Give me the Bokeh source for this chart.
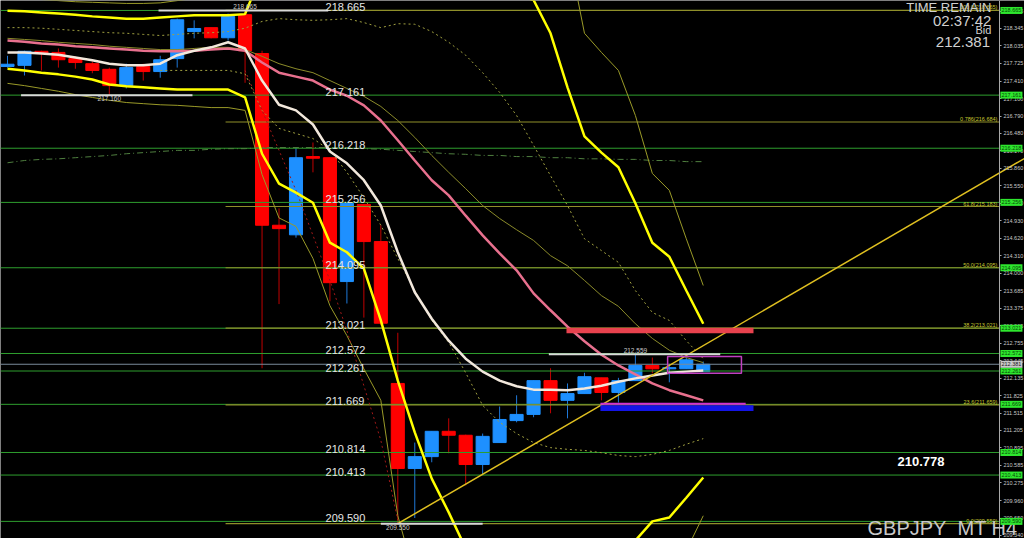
from bokeh.plotting import figure
from bokeh.models import Range1d, FixedTicker, Label, ColumnDataSource, PrintfTickFormatter, LinearAxis
from bokeh.core.properties import value
from bokeh.embed import file_html
from bokeh.resources import INLINE

# ---------------- data (GBPJPY H4) ----------------
idx = list(range(42))
open_ = [217.67, 217.69, 217.94, 217.92, 217.81, 217.72, 217.62, 217.33, 217.67, 217.58,
         217.81, 218.29, 218.36, 218.18, 218.59, 217.90, 214.85, 214.68, 216.07, 216.05,
         213.85, 215.22, 214.56, 212.04, 210.53, 210.74, 211.19, 211.12, 210.60, 210.99,
         211.38, 211.49, 212.09, 211.74, 211.86, 212.14, 211.88, 212.09, 212.36, 212.30,
         212.30, 212.25]
high = [217.86, 217.95, 217.95, 217.99, 217.85, 217.76, 217.65, 217.72, 217.72, 217.86,
        218.52, 218.49, 218.36, 218.61, 218.665, 217.95, 215.15, 216.23, 216.32, 216.05,
        215.24, 215.22, 214.85, 212.94, 210.99, 211.19, 211.42, 211.13, 211.15, 211.63,
        211.83, 212.09, 212.31, 212.04, 212.23, 212.14, 212.14, 212.559, 212.50, 212.39,
        212.50, 212.43]
low = [217.65, 217.51, 217.60, 217.65, 217.63, 217.55, 217.160, 217.28, 217.42, 217.47,
       217.65, 218.17, 218.17, 218.13, 217.38, 212.31, 213.45, 214.63, 215.79, 213.50,
       213.46, 213.21, 213.07, 209.550, 209.65, 210.64, 210.80, 210.23, 210.41, 210.99,
       211.35, 211.44, 211.51, 211.42, 211.86, 211.74, 211.70, 212.09, 212.22, 212.06,
       212.30, 212.25]
close = [217.71, 217.94, 217.90, 217.79, 217.74, 217.60, 217.33, 217.65, 217.58, 217.79,
         218.50, 218.345, 218.18, 218.56, 217.95, 214.85, 214.79, 216.05, 216.04, 213.83,
         215.24, 214.56, 213.11, 210.53, 210.74, 211.19, 211.12, 210.60, 211.10, 211.40,
         211.49, 212.09, 211.74, 211.86, 212.16, 211.88, 212.09, 212.36, 212.30, 212.32,
         212.46, 212.381]

ema_white = [217.92, 217.92, 217.90, 217.88, 217.83, 217.78, 217.72, 217.69, 217.69, 217.72,
             217.87, 217.95, 218.01, 218.10, 217.99, 217.42, 216.99, 216.89, 216.64, 216.16,
             215.95, 215.65, 215.20, 214.37, 213.66, 213.19, 212.80, 212.48, 212.25, 212.09,
             211.99, 211.93, 211.93, 211.92, 211.95, 212.00, 212.07, 212.13, 212.18, 212.23,
             212.25, 212.27]
ma_pink = [218.13, 218.11, 218.08, 218.06, 218.03, 218.01, 217.99, 217.97, 217.95, 217.94,
           217.94, 217.95, 217.97, 217.99, 217.95, 217.74, 217.56, 217.49, 217.42, 217.26,
           217.15, 216.98, 216.71, 216.36, 216.00, 215.65, 215.38, 215.02, 214.67, 214.35,
           214.05, 213.64, 213.34, 213.05, 212.79, 212.55, 212.36, 212.20, 212.04, 211.92,
           211.83, 211.74]
mid_olive = [218.17, 218.15, 218.13, 218.10, 218.08, 218.06, 218.03, 218.01, 217.99, 217.97,
             217.97, 217.99, 218.01, 218.01, 217.97, 217.85, 217.72, 217.63, 217.56, 217.42,
             217.28, 217.14, 216.96, 216.71, 216.41, 216.09, 215.79, 215.50, 215.20, 214.97,
             214.77, 214.58, 214.31, 214.13, 213.87, 213.60, 213.41, 213.10, 212.84, 212.63,
             212.50, 212.41]
upper_yellow = [218.66, 218.65, 218.63, 218.61, 218.59, 218.56, 218.54, 218.52, 218.52, 218.54,
                218.56, 218.58, 218.58, 218.58, 218.60, 219.35, 219.70, 219.80, 219.85, 219.95,
                220.00, 219.95, 219.90, 219.85, 219.80, 219.65, 219.50, 219.35, 219.20, 219.10,
                218.95, 218.85, 218.26, 217.30, 216.43, 216.14, 215.88, 215.24, 214.54, 214.29,
                213.69, 213.10]
lower_yellow = [217.63, 217.60, 217.56, 217.53, 217.49, 217.44, 217.35, 217.32, 217.30, 217.28,
                217.26, 217.26, 217.26, 217.26, 217.12, 216.12, 215.59, 215.43, 215.25, 214.54,
                214.37, 214.08, 213.16, 212.09, 211.17, 210.35, 209.75, 209.11, 208.80, 208.55,
                208.35, 208.25, 208.30, 208.45, 208.65, 208.85, 209.05, 209.25, 209.59, 209.66,
                210.01, 210.37]
upper_olive = [218.90, 218.88, 218.86, 218.84, 218.82, 218.81, 218.80, 218.79, 218.79, 218.80,
               218.84, 218.88, 218.92, 218.95, 219.00, 219.60, 220.00, 220.20, 220.35, 220.50,
               220.60, 220.65, 220.70, 220.70, 220.65, 220.60, 220.50, 220.40, 220.30, 220.20,
               220.20, 220.10, 220.00, 219.78, 218.26, 217.92, 217.60, 216.80, 215.77, 215.47,
               214.61, 213.78]
lower_olive = [217.37, 217.33, 217.28, 217.23, 217.17, 217.12, 217.07, 217.03, 217.01, 216.99,
               216.98, 216.96, 216.94, 216.94, 216.89, 215.75, 214.98, 214.83, 214.26, 213.42,
               212.89, 212.30, 211.74, 209.69, 208.60, 208.20, 207.90, 207.70, 207.60, 207.60,
               207.70, 207.80, 208.00, 208.20, 208.40, 208.60, 208.75, 208.85, 208.95, 209.00,
               209.07, 209.69]
upper_dotted = [218.36, 218.36, 218.35, 218.33, 218.31, 218.29, 218.27, 218.26, 218.24, 218.22,
                218.24, 218.26, 218.27, 218.29, 218.35, 218.47, 218.52, 218.50, 218.49, 218.50,
                218.52, 218.45, 218.36, 218.43, 218.42, 218.29, 218.10, 217.87, 217.56, 217.21,
                216.80, 216.27, 215.73, 215.20, 214.61, 214.40, 214.19, 213.69, 213.30, 213.16,
                212.80, 212.48]
lower_dotted_idx = list(range(9, 42))
lower_dotted = [217.60, 217.60, 217.60, 217.60, 217.60, 217.54, 216.89, 216.57, 216.48, 216.39,
                216.18, 215.79, 215.34, 214.85, 214.26, 213.69, 213.16, 212.77, 212.23, 211.65,
                211.35, 211.15, 210.99, 210.90, 210.87, 210.85, 210.81, 210.76, 210.74, 210.78,
                210.85, 210.96, 211.06]
red_dotted_idx = list(range(14, 24))
red_dotted = [217.60, 216.89, 216.18, 215.47, 214.67, 213.87, 212.98, 212.00, 211.03, 209.61]
long_ma = [215.96, 216.00, 216.02, 216.03, 216.05, 216.07, 216.09, 216.12, 216.14, 216.16,
           216.18, 216.18, 216.20, 216.21, 216.21, 216.23, 216.23, 216.23, 216.23, 216.23,
           216.23, 216.21, 216.20, 216.18, 216.16, 216.14, 216.12, 216.11, 216.09, 216.09,
           216.07, 216.07, 216.05, 216.05, 216.03, 216.03, 216.02, 216.02, 216.00, 216.00,
           215.98, 215.98]

level_vals = [218.665, 217.161, 216.218, 215.256, 214.095, 213.021, 212.572, 212.261,
              211.669, 210.814, 210.413, 209.590]
fib_vals = [218.665, 216.684, 215.183, 214.095, 213.021, 211.659, 209.550]
fib_text = ["100.0(218.665)", "0.786(216.684)", "61.8(215.183)", "50.0(214.095)",
            "38.2(213.021)", "23.6(211.659)", "0.0(209.550)"]
fib_start = 12.85

hl_idx_high = [14, 37]
hl_val_high = [218.665, 212.559]
hl_x0_high = [8.9, 31.9]
hl_x1_high = [18.9, 42.0]
hl_idx_low = [6, 23]
hl_val_low = [217.160, 209.550]
hl_x0_low = [0.8, 22.0]
hl_x1_low = [10.9, 28.0]

trend_x = [23, 62]
trend_y = [209.55, 216.40]

red_zone = dict(left=[32.94], right=[43.96], top=[213.03], bottom=[212.93])
blue_zone = dict(left=[34.94], right=[43.96], top=[211.655], bottom=[211.55])
magenta_line = dict(x0=[34.94], x1=[43.5], y=[211.68])
magenta_box = dict(left=[38.9], right=[43.25], top=[212.52], bottom=[212.22])

bid = 212.381
tick_vals = [218.655, 218.345, 218.035, 217.725, 217.410, 217.100, 216.790, 216.480, 216.170,
             215.860, 215.550, 215.240, 214.930, 214.620, 214.310, 214.000, 213.685, 213.375,
             213.065, 212.755, 212.445, 212.135, 211.825, 211.515, 211.205, 210.895, 210.585,
             210.275, 209.960, 209.650, 209.340]

# ---------------- figure ----------------
X0, X1 = -0.4125, 59.93
Y0, Y1 = 209.286, 218.842
AXIS_X = 58.45          # position of the price scale
TAG_X = 59.16           # centre of price tags
FONT = "Liberation Sans"

p = figure(frame_width=1024, frame_height=538, x_range=Range1d(X0, X1), y_range=Range1d(Y0, Y1),
           output_backend="svg", toolbar_location=None, x_axis_location=None,
           y_axis_location=None, background_fill_color="black", border_fill_color="black",
           outline_line_color=None, min_border_left=0, min_border_right=0,
           min_border_top=0, min_border_bottom=0)
p.grid.visible = False
ax = LinearAxis(fixed_location=AXIS_X, ticker=FixedTicker(ticks=tick_vals),
                formatter=PrintfTickFormatter(format="%.3f"))
ax.major_label_text_font_size = "5.5px"
ax.major_label_text_color = "#c8c8c8"
ax.major_label_text_font = FONT
ax.axis_line_color = "#a8a8a8"
ax.major_tick_line_color = "#a8a8a8"
ax.major_tick_in = 0
ax.major_tick_out = 2
ax.minor_tick_line_color = None
ax.major_label_standoff = 2
p.add_layout(ax, "right")

# candles
def candle_source(bull):
    sel = [i for i in idx if (close[i] >= open_[i]) == bull]
    return ColumnDataSource(dict(
        x=[idx[i] for i in sel], h=[high[i] for i in sel], l=[low[i] for i in sel],
        top=[max(open_[i], close[i]) for i in sel], bot=[min(open_[i], close[i]) for i in sel]))

for bull, body, wick in [(True, "#1e90ff", "#1e78d8"), (False, "#ff0000", "#c00000")]:
    s = candle_source(bull)
    p.segment(x0="x", y0="h", x1="x", y1="l", source=s, line_color=wick, line_width=1)
    p.vbar(x="x", width=0.77, top="top", bottom="bot", source=s,
           fill_color=body, line_color=body, line_width=1)

# horizontal levels
n = len(level_vals)
p.segment(x0=[X0] * n, y0=level_vals, x1=[AXIS_X] * n, y1=level_vals,
          line_color="#2e9e2e", line_width=1)
m = len(fib_vals)
p.segment(x0=[fib_start] * m, y0=fib_vals, x1=[AXIS_X] * m, y1=fib_vals,
          line_color="#8f8f2a", line_width=1.2)
p.segment(x0=[X0], y0=[bid], x1=[AXIS_X], y1=[bid], line_color="#7a8a9a", line_width=1)

# indicators
p.line(idx, long_ma, line_color="#4f7f3f", line_width=1, line_dash="6 3 1 3")
p.line(idx, upper_olive, line_color="#9a9a28", line_width=1)
p.line(idx, lower_olive, line_color="#9a9a28", line_width=1)
p.line(idx, mid_olive, line_color="#8b8b2a", line_width=1)
p.line(idx, upper_dotted, line_color="#a0a040", line_width=1, line_dash="2 3")
p.line(lower_dotted_idx, lower_dotted, line_color="#a0a040", line_width=1, line_dash="2 3")
p.line(red_dotted_idx, red_dotted, line_color="#a01818", line_width=1, line_dash="2 3")
p.line(idx, upper_yellow, line_color="#ffff00", line_width=2.5)
p.line(idx, lower_yellow, line_color="#ffff00", line_width=2.5)
p.line(idx, ma_pink, line_color="#e8708e", line_width=2.5)
p.line(idx, ema_white, line_color="#f2e8dc", line_width=2.5)
p.line(trend_x, trend_y, line_color="#e0c020", line_width=1.5)

# high / low markers
p.segment(x0=hl_x0_high, y0=hl_val_high, x1=hl_x1_high, y1=hl_val_high, line_color="#d8d8d8", line_width=2)
p.segment(x0=hl_x0_low, y0=hl_val_low, x1=hl_x1_low, y1=hl_val_low, line_color="#d8d8d8", line_width=2)
p.text(x=hl_idx_high, y=hl_val_high, text=[f"{v:.3f}" for v in hl_val_high], text_align="center",
       text_baseline="bottom", y_offset=-1, text_font=value(FONT), text_font_size="6.5px",
       text_color="#c8c8c8")
p.text(x=hl_idx_low, y=hl_val_low, text=[f"{v:.3f}" for v in hl_val_low], text_align="center",
       text_baseline="top", y_offset=1, text_font=value(FONT), text_font_size="6.5px",
       text_color="#c8c8c8")

# zones
p.quad(source=ColumnDataSource(red_zone), left="left", right="right", top="top", bottom="bottom",
       fill_color="#e8424e", line_color=None)
p.quad(source=ColumnDataSource(blue_zone), left="left", right="right", top="top", bottom="bottom",
       fill_color="#1414e6", line_color=None)
p.segment(x0=magenta_line["x0"], y0=magenta_line["y"], x1=magenta_line["x1"], y1=magenta_line["y"],
          line_color="#d030d0", line_width=2)
p.quad(source=ColumnDataSource(magenta_box), left="left", right="right", top="top", bottom="bottom",
       fill_color=None, line_color="#c040c0", line_width=1.5)

# level labels
p.text(x=[18.74] * n, y=level_vals, text=[f"{v:.3f}" for v in level_vals],
       text_baseline="alphabetic", y_offset=-3, text_font=value(FONT), text_font_size="11px",
       text_color="#e6e6e6")
p.text(x=[AXIS_X] * m, y=fib_vals, text=fib_text, text_align="right",
       text_baseline="bottom", x_offset=-2, text_font=value(FONT), text_font_size="5.5px",
       text_color="#c8c830")

# price tags on the scale
tags = p.rect(x=[TAG_X] * n, y=level_vals, width=22, height=7, width_units="screen",
              height_units="screen", fill_color="#2ee62e", line_color=None)
tags.level = "overlay"
tag_txt = p.text(x=[TAG_X] * n, y=level_vals, text=[f"{v:.3f}" for v in level_vals],
                 text_align="center", text_baseline="middle", text_font=value(FONT),
                 text_font_size="5.5px", text_color="#064806")
tag_txt.level = "overlay"
bid_tag = p.rect(x=[TAG_X], y=[bid], width=22, height=7, width_units="screen",
                 height_units="screen", fill_color="#c8c8c8", line_color=None)
bid_tag.level = "overlay"
bid_txt = p.text(x=[TAG_X], y=[bid], text=[f"{bid:.3f}"], text_align="center",
                 text_baseline="middle", text_font=value(FONT), text_font_size="5.5px",
                 text_color="#202020")
bid_txt.level = "overlay"

# info texts
def info(txt, x, y, size, color="#d0d0d0", align="right", style="normal"):
    p.add_layout(Label(x=x, y=y, text=txt, text_font=FONT, text_font_size=size,
                       text_color=color, text_align=align, text_baseline="alphabetic",
                       text_font_style=style))

info("TIME REMAIN", 57.98, 218.71, "13px")
info("02:37:42", 57.98, 218.48, "15px")
info("Bid", 57.98, 218.32, "11px")
info("212.381", 57.90, 218.11, "15px")
info("210.778", 52.45, 210.655, "13px", color="#ffffff", align="left", style="bold")
info("GBPJPY_MT H4", 59.52, 209.48, "20px", color="#c8c8c8")

open("out.html", "w").write(file_html(p, INLINE, title="GBPJPY_MT H4"))
